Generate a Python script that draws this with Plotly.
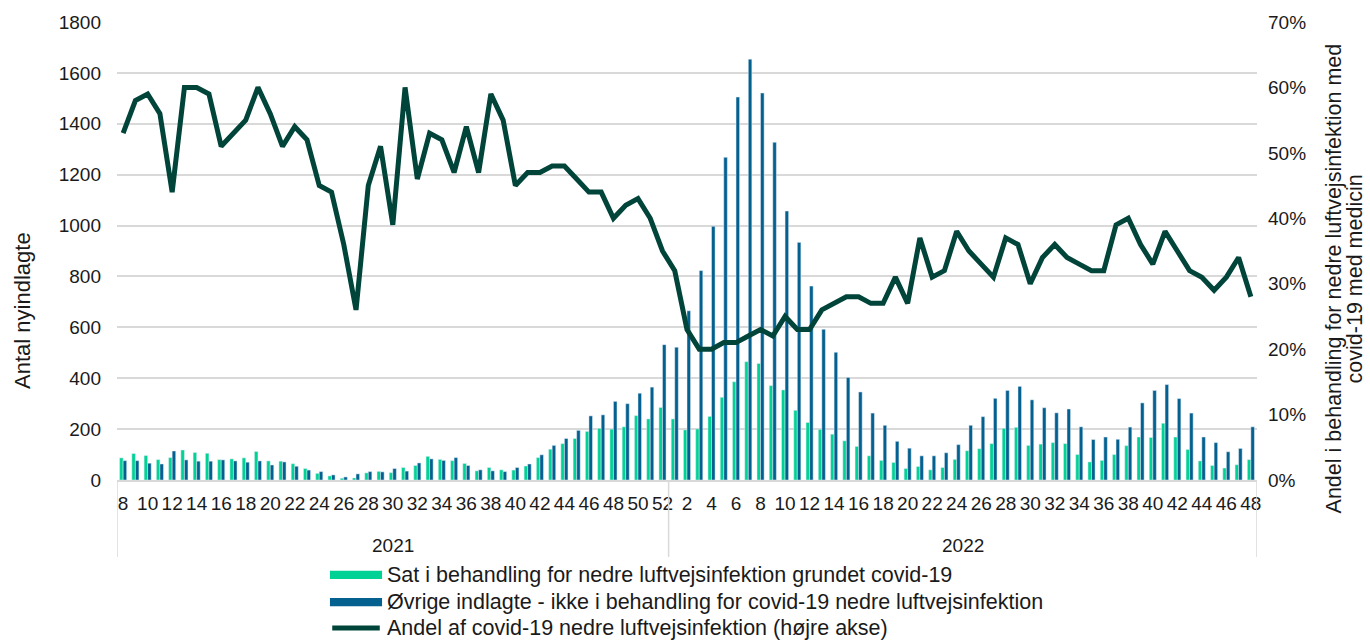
import plotly.graph_objects as go

# uger: 2021 uge 8-52, 2022 uge 1-48
weeks_2021 = list(range(8, 53))
weeks_2022 = list(range(1, 49))

covid_2021 = [87, 104, 96, 80, 88, 118, 108, 105, 80, 83, 87, 112, 75, 74, 64, 45, 26, 16, 7, 8,
              28, 34, 29, 49, 57, 93, 81, 76, 65, 36, 49, 40, 39, 55, 88, 121, 143, 163, 191, 203,
              200, 209, 253, 240, 285]
covid_2022 = [240, 197, 201, 250, 325, 386, 465, 458, 371, 354, 274, 226, 199, 180, 154, 132, 95, 77,
              69, 45, 53, 40, 49, 81, 115, 123, 143, 203, 207, 136, 141, 147, 143, 100, 71, 77, 100,
              135, 169, 167, 223, 169, 120, 75, 57, 47, 60, 80]

other_2021 = [76, 76, 66, 63, 114, 79, 74, 74, 79, 75, 70, 75, 59, 71, 54, 39, 33, 20, 12, 24,
              33, 32, 45, 35, 67, 83, 77, 88, 57, 40, 36, 33, 49, 63, 99, 136, 163, 195, 252, 256,
              309, 300, 341, 365, 532]
other_2022 = [522, 665, 823, 997, 1268, 1505, 1654, 1521, 1327, 1057, 934, 762, 592, 502, 403, 346,
              263, 215, 152, 125, 95, 95, 107, 139, 215, 249, 321, 352, 368, 315, 284, 264, 279, 209,
              159, 169, 160, 208, 303, 352, 375, 320, 263, 169, 147, 111, 124, 209]

share_2021 = [53, 58, 59, 56, 44, 60, 60, 59, 51, 53, 55, 60, 56, 51, 54, 52, 45, 44, 36, 26,
              45, 51, 39, 60, 46, 53, 52, 47, 54, 47, 59, 55, 45, 47, 47, 48, 48, 46, 44, 44,
              40, 42, 43, 40, 35]
share_2022 = [32, 23, 20, 20, 21, 21, 22, 23, 22, 25, 23, 23, 26, 27, 28, 28, 27, 27, 31, 27,
              37, 31, 32, 38, 35, 33, 31, 37, 36, 30, 34, 36, 34, 33, 32, 32, 39, 40, 36, 33,
              38, 35, 32, 31, 29, 31, 34, 28]

names = [
    "Sat i behandling for nedre luftvejsinfektion grundet covid-19",
    "Øvrige indlagte - ikke i behandling for covid-19 nedre luftvejsinfektion",
    "Andel af covid-19 nedre luftvejsinfektion (højre akse)",
]
right_title = ["Andel i behandling for nedre luftvejsinfektion med", "covid-19 med medicin"]

cats = [f"2021-{w}" for w in weeks_2021] + [f"2022-{w}" for w in weeks_2022]
week_nums = weeks_2021 + weeks_2022
covid = covid_2021 + covid_2022
other = other_2021 + other_2022
share = [s / 100 for s in share_2021 + share_2022]

GREEN = "#00D296"
BLUE = "#04608F"
DARK = "#00443A"
TXT = "#1a1a1a"
FONT = "Liberation Sans, Arial, sans-serif"

fig = go.Figure()

fig.add_bar(name=names[0], x=cats, y=covid, marker_color=GREEN, showlegend=False)
fig.add_bar(name=names[1], x=cats, y=other, marker_color=BLUE, showlegend=False)
fig.add_scatter(
    name=names[2], x=cats, y=share, yaxis="y2", mode="lines",
    line=dict(color=DARK, width=5), showlegend=False,
)

# year labels and dividers under the axis
n21 = len(weeks_2021)
n_all = len(cats)
for pos in [-0.5, n21 - 0.5, n_all - 0.5]:
    fig.add_shape(type="line", xref="x", yref="paper", x0=pos, x1=pos, y0=0, y1=-0.168,
                  line=dict(color="#d9d9d9", width=1.5))
for label, xc in [("2021", (n21 - 1) / 2), ("2022", n21 + (len(weeks_2022) - 1) / 2)]:
    fig.add_annotation(text=label, xref="x", yref="paper", x=xc, y=-0.142,
                       xanchor="center", yanchor="middle", showarrow=False,
                       font=dict(size=19, color=TXT))

# axis titles
fig.add_annotation(text="Antal nyindlagte", xref="paper", yref="paper", x=-0.083, y=0.37,
                   xanchor="center", yanchor="middle", textangle=-90, showarrow=False,
                   font=dict(size=22, color=TXT))
for line, xp in zip(right_title, [1.0684, 1.0868]):
    fig.add_annotation(text=line, xref="paper", yref="paper", x=xp, y=0.44, textangle=-90,
                       xanchor="center", yanchor="middle", showarrow=False,
                       font=dict(size=21.5, color=TXT))

# legend below the chart (wide swatches like the original)
leg_y = [-0.2074, -0.2664, -0.3231]
sw_x0, sw_x1, txt_x = 0.1868, 0.2325, 0.2355
fig.add_shape(type="rect", xref="paper", yref="paper", x0=sw_x0, x1=sw_x1,
              y0=leg_y[0] - 0.009, y1=leg_y[0] + 0.009, fillcolor=GREEN, line_width=0)
fig.add_shape(type="rect", xref="paper", yref="paper", x0=sw_x0, x1=sw_x1,
              y0=leg_y[1] - 0.009, y1=leg_y[1] + 0.009, fillcolor=BLUE, line_width=0)
fig.add_shape(type="line", xref="paper", yref="paper", x0=sw_x0 + 0.002, x1=sw_x1 - 0.002,
              y0=leg_y[2], y1=leg_y[2], line=dict(color=DARK, width=5))
for name, yy in zip(names, leg_y):
    fig.add_annotation(text=name, xref="paper", yref="paper", x=txt_x, y=yy,
                       xanchor="left", yanchor="middle", showarrow=False,
                       font=dict(size=21.5, color=TXT))

fig.update_layout(
    width=1370,
    height=641,
    margin=dict(l=117, r=113, t=22, b=161, autoexpand=False),
    paper_bgcolor="white",
    plot_bgcolor="white",
    font=dict(family=FONT, size=19, color=TXT),
    barmode="group",
    bargap=0.42,
    bargroupgap=0,
    showlegend=False,
    xaxis=dict(
        type="category",
        tickmode="array",
        tickvals=cats[::2],
        ticktext=[str(w) for w in week_nums[::2]],
        tickangle=0,
        showgrid=False,
        showline=True,
        linecolor="#d9d9d9",
        linewidth=1.5,
        ticks="",
        ticklabelstandoff=5,
        range=[-0.5, n_all - 0.5],
        automargin=False,
    ),
    yaxis=dict(
        range=[0, 1800],
        dtick=200,
        showgrid=True,
        gridcolor="#d9d9d9",
        gridwidth=1.5,
        zeroline=False,
        ticklabelstandoff=15,
        automargin=False,
    ),
    yaxis2=dict(
        overlaying="y",
        side="right",
        range=[0, 0.7],
        dtick=0.1,
        tickformat=".0%",
        showgrid=False,
        zeroline=False,
        ticklabelstandoff=10,
        automargin=False,
    ),
)

# page body has an 8px default margin, drop it so the figure fills the window
fig.write_html("out.html", config={"displayModeBar": False},
               post_script="document.body.style.margin='0';")
